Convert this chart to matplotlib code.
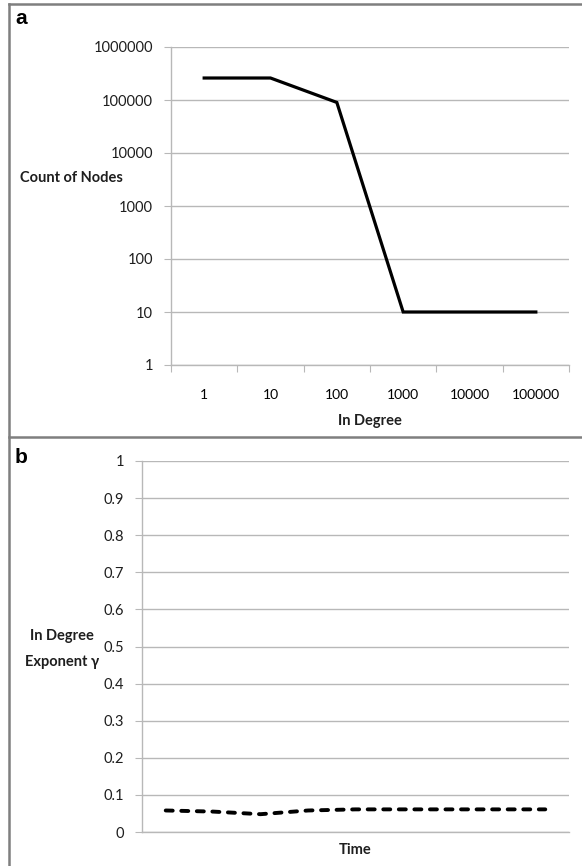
import matplotlib.pyplot as plt
from matplotlib.lines import Line2D
from matplotlib.ticker import FixedLocator, NullFormatter

# ============================
# Data
# ============================
degree_labels = ["1", "10", "100", "1000", "10000", "100000"]
node_counts = [260000, 260000, 90000, 10, 10, 10]

time_points = list(range(9))
gamma_values = [0.058, 0.055, 0.048, 0.058, 0.061, 0.061, 0.061, 0.061, 0.061]

y_ticks_a = [1, 10, 100, 1000, 10000, 100000, 1000000]
y_ticks_b = [0, 0.1, 0.2, 0.3, 0.4, 0.5, 0.6, 0.7, 0.8, 0.9, 1]

plt.rcParams["font.family"] = ["Lato", "DejaVu Sans"]
GRID = "#b8b8b8"
TXT = "#1e1e1e"
FS = 10.5
W, H = 582, 866

fig = plt.figure(figsize=(W / 100, H / 100), dpi=100)


def px(x, y):
    return x / W, 1 - y / H


# ============================
# Panel borders
# ============================
border = dict(color="#7f7f7f", lw=1.8, transform=fig.transFigure)
fig.add_artist(Line2D([9 / W, 1], [1 - 4 / H] * 2, **border))
fig.add_artist(Line2D([9 / W, 1], [1 - 437 / H] * 2, **border))
fig.add_artist(Line2D([9 / W] * 2, [0, 1 - 4 / H], **border))


def style_axes(ax):
    for s in ["top", "right"]:
        ax.spines[s].set_visible(False)
    for s in ["left", "bottom"]:
        ax.spines[s].set_color(GRID)
        ax.spines[s].set_linewidth(1.0)
    ax.grid(axis="y", color=GRID, lw=1.0)
    ax.set_axisbelow(True)
    ax.tick_params(colors=GRID, labelcolor=TXT, labelsize=FS)


# ============================
# a. In Degree distribution
# ============================
ax1 = fig.add_axes([171 / W, 1 - 365 / H, 398 / W, 318 / H])
style_axes(ax1)
x = list(range(len(degree_labels)))
ax1.plot(x, node_counts, color="black", lw=2.3, solid_joinstyle="miter")
ax1.set_yscale("log")
ax1.set_ylim(1, 1000000)
ax1.yaxis.set_major_locator(FixedLocator(y_ticks_a))
ax1.yaxis.set_minor_locator(FixedLocator([]))
ax1.set_yticklabels([str(v) for v in y_ticks_a])
ax1.tick_params(axis="y", length=5, pad=8)
ax1.set_xlim(-0.5, len(degree_labels) - 0.5)
ax1.set_xticks([i - 0.5 for i in range(len(degree_labels) + 1)])
ax1.xaxis.set_major_formatter(NullFormatter())
ax1.set_xticks(x, minor=True)
ax1.set_xticklabels(degree_labels, minor=True)
ax1.tick_params(axis="x", which="major", length=5)
ax1.tick_params(axis="x", which="minor", length=0, pad=17)

fig.text(*px(71, 178), "Count of Nodes", ha="center", va="center",
         fontsize=FS, fontweight="bold", color=TXT)
fig.text(*px(370, 421), "In Degree", ha="center", va="center",
         fontsize=FS, fontweight="bold", color=TXT)
fig.text(*px(15, 18), "a", ha="left", va="center", fontsize=15,
         fontweight="bold", family="Liberation Sans")

# ============================
# b. In Degree exponent over time
# ============================
ax2 = fig.add_axes([142 / W, 1 - 832 / H, 427 / W, 371 / H])
style_axes(ax2)
ax2.plot(time_points, gamma_values, color="black", lw=2.8,
         linestyle=(0, (1.8, 2.2)), dash_capstyle="round")
ax2.set_ylim(0, 1)
ax2.set_yticks(y_ticks_b)
ax2.set_yticklabels([f"{v:g}" for v in y_ticks_b])
ax2.tick_params(axis="y", length=5, pad=8)
ax2.set_xlim(-0.5, len(time_points) - 0.5)
ax2.set_xticks([])

fig.text(*px(62, 636), "In Degree", ha="center", va="center",
         fontsize=FS, fontweight="bold", color=TXT)
fig.text(*px(62, 662), "Exponent γ", ha="center", va="center",
         fontsize=FS, fontweight="bold", color=TXT)
fig.text(*px(355, 850), "Time", ha="center", va="center",
         fontsize=FS, fontweight="bold", color=TXT)
fig.text(*px(15, 457), "b", ha="left", va="center", fontsize=15,
         fontweight="bold", family="Liberation Sans")

plt.savefig("out.png", dpi=100)
plt.close()
